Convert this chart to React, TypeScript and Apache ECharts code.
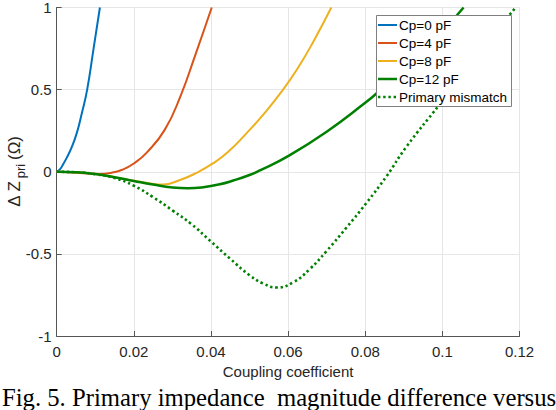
import React, { useEffect, useRef } from 'react';
import * as echarts from 'echarts';

const xTickLabels = ['0', '0.02', '0.04', '0.06', '0.08', '0.1', '0.12'];
const yTickLabels = ['-1', '-0.5', '0', '0.5', '1'];
const seriesNames = ['Cp=0 pF', 'Cp=4 pF', 'Cp=8 pF', 'Cp=12 pF', 'Primary mismatch'];
const xAxisTitle = 'Coupling coefficient';
const caption = 'Fig. 5. Primary impedance  magnitude difference versus';

const cp0K = [0, 0.0008, 0.0016, 0.0026, 0.0039, 0.0052, 0.0065, 0.0079, 0.0095, 0.0112];
const cp0Dz = [0, 0.014, 0.042, 0.085, 0.15, 0.235, 0.355, 0.5, 0.74, 1.0];

const cp4K = [0, 0.004, 0.008, 0.011, 0.014, 0.017, 0.02, 0.0234, 0.028, 0.032, 0.036, 0.0402];
const cp4Dz = [0, -0.004, -0.011, -0.013, -0.007, 0.012, 0.05, 0.118, 0.255, 0.455, 0.715, 1.0];

const cp8K = [0, 0.005, 0.01, 0.015, 0.02, 0.025, 0.0275, 0.032, 0.036, 0.0406, 0.0444, 0.0492, 0.054, 0.0587, 0.0625, 0.0665, 0.0712];
const cp8Dz = [0, -0.003, -0.014, -0.033, -0.055, -0.074, -0.078, -0.05, -0.01, 0.052, 0.12, 0.234, 0.36, 0.5, 0.63, 0.79, 1.0];

const cp12K = [0, 0.005, 0.01, 0.015, 0.02, 0.025, 0.03, 0.034, 0.038, 0.042, 0.046, 0.05, 0.0527, 0.06, 0.07, 0.08, 0.0829, 0.09, 0.1, 0.1055];
const cp12Dz = [0, -0.003, -0.014, -0.033, -0.056, -0.078, -0.096, -0.1, -0.094, -0.078, -0.052, -0.02, 0.008, 0.095, 0.244, 0.42, 0.476, 0.62, 0.855, 1.0];

const mismatchK = [0, 0.005, 0.01, 0.015, 0.02, 0.025, 0.03, 0.035, 0.04, 0.045, 0.05, 0.0535, 0.057, 0.0613, 0.0656, 0.07, 0.0751, 0.0803, 0.0855, 0.0907, 0.0993, 0.105, 0.11, 0.119];
const mismatchDz = [0, -0.003, -0.015, -0.038, -0.085, -0.155, -0.235, -0.32, -0.425, -0.53, -0.63, -0.68, -0.705, -0.673, -0.593, -0.482, -0.341, -0.19, -0.028, 0.153, 0.41, 0.585, 0.74, 1.0];

const colors = ['#0072BD', '#D95319', '#EDB120', '#008000', '#008000'];

const zip = (xs: number[], ys: number[]) => xs.map((x, i) => [x, ys[i]]);

export default function App() {
  const ref = useRef<HTMLDivElement>(null);
  useEffect(() => {
    document.body.style.margin = '0';
    const chart = echarts.init(ref.current!, undefined, { renderer: 'svg' });
    const sans = 'Liberation Sans, Arial, Helvetica, sans-serif';
    const axisColor = '#262626';
    const gridLeft = 56.7;
    const gridTop = 6.7;
    const gridW = 462.8;
    const gridH = 329.3;
    const dataSets = [
      zip(cp0K, cp0Dz),
      zip(cp4K, cp4Dz),
      zip(cp8K, cp8Dz),
      zip(cp12K, cp12Dz),
      zip(mismatchK, mismatchDz),
    ];
    const lineStyles = seriesNames.map((_, i) =>
      i === 4
        ? { color: colors[i], width: 2.6, type: [2.4, 2.8], cap: 'butt' }
        : { color: colors[i], width: i === 3 ? 2.5 : 2 }
    );

    // legend drawn as graphic elements
    const legX = 376.5;
    const legY = 15.5;
    const legRow = 18;
    const legendChildren: any[] = [
      {
        type: 'rect',
        shape: { x: legX, y: legY, width: 135, height: 91 },
        style: { fill: '#ffffff', stroke: '#7f7f7f', lineWidth: 1 },
        z: 100,
      },
    ];
    seriesNames.forEach((name, i) => {
      const cy = legY + 9.5 + legRow * i;
      const ls: any = lineStyles[i];
      legendChildren.push({
        type: 'line',
        shape: { x1: legX + 1.5, y1: cy, x2: legX + 20.5, y2: cy },
        style: {
          stroke: colors[i],
          lineWidth: ls.width,
          lineDash: Array.isArray(ls.type) ? ls.type : null,
          lineCap: 'butt',
        },
        z: 101,
      });
      legendChildren.push({
        type: 'text',
        x: legX + 22.5,
        y: cy,
        style: { text: name, fontFamily: sans, fontSize: 13.5, fill: '#000', align: 'left', verticalAlign: 'middle' },
        z: 101,
      });
    });

    const option: any = {
      animation: false,
      grid: { left: gridLeft, top: gridTop, width: gridW, height: gridH, containLabel: false },
      xAxis: {
        type: 'value',
        min: 0,
        max: 0.12,
        interval: 0.02,
        name: xAxisTitle,
        nameLocation: 'middle',
        nameGap: 28,
        nameTextStyle: { fontFamily: sans, fontSize: 15, color: axisColor },
        axisLine: { show: true, onZero: false, lineStyle: { color: '#555', width: 1 } },
        axisTick: { show: true, inside: true, length: 5, lineStyle: { color: '#555' } },
        axisLabel: {
          fontFamily: sans,
          fontSize: 15,
          color: axisColor,
          margin: 8,
          formatter: (v: number) => xTickLabels[Math.round(v / 0.02)] ?? '',
        },
        splitLine: { show: true, lineStyle: { color: '#e6e6e6', width: 1 } },
      },
      yAxis: {
        type: 'value',
        min: -1,
        max: 1,
        interval: 0.5,
        axisLine: { show: true, onZero: false, lineStyle: { color: '#555', width: 1 } },
        axisTick: { show: true, inside: true, length: 5, lineStyle: { color: '#555' } },
        axisLabel: {
          fontFamily: sans,
          fontSize: 15,
          color: axisColor,
          margin: 5,
          formatter: (v: number) => yTickLabels[Math.round((v + 1) / 0.5)] ?? '',
        },
        splitLine: { show: true, lineStyle: { color: '#e6e6e6', width: 1 } },
      },
      series: seriesNames.map((name, i) => ({
        name,
        type: 'line',
        data: dataSets[i],
        symbol: 'none',
        smooth: 0.5,
        clip: true,
        color: colors[i],
        lineStyle: lineStyles[i],
        z: i === 4 ? 1 : 2,
      })),
      graphic: [
        ...legendChildren,
        {
          type: 'group',
          x: 20,
          y: 206.7,
          rotation: Math.PI / 2,
          children: [
            {
              type: 'text',
              x: 0,
              y: -6,
              style: { text: 'Δ Z', fontFamily: sans, fontSize: 17, fill: axisColor, align: 'left', verticalAlign: 'middle' },
            },
            {
              type: 'text',
              x: 28.4,
              y: 0,
              style: { text: 'pri', fontFamily: sans, fontSize: 13, fill: axisColor, align: 'left', verticalAlign: 'middle' },
            },
            {
              type: 'text',
              x: 46.7,
              y: -6,
              style: { text: '(Ω)', fontFamily: sans, fontSize: 17, fill: axisColor, align: 'left', verticalAlign: 'middle' },
            },
          ],
        },
        {
          type: 'text',
          left: 2,
          top: 385,
          style: {
            text: caption,
            fontFamily: 'Liberation Serif, Times New Roman, serif',
            fontSize: 24.7,
            fill: '#000',
          },
        },
      ],
    };
    chart.setOption(option);
    return () => chart.dispose();
  }, []);
  return <div ref={ref} style={{ position: 'fixed', left: 0, top: 0, width: 556, height: 410, background: '#fff' }} />;
}
